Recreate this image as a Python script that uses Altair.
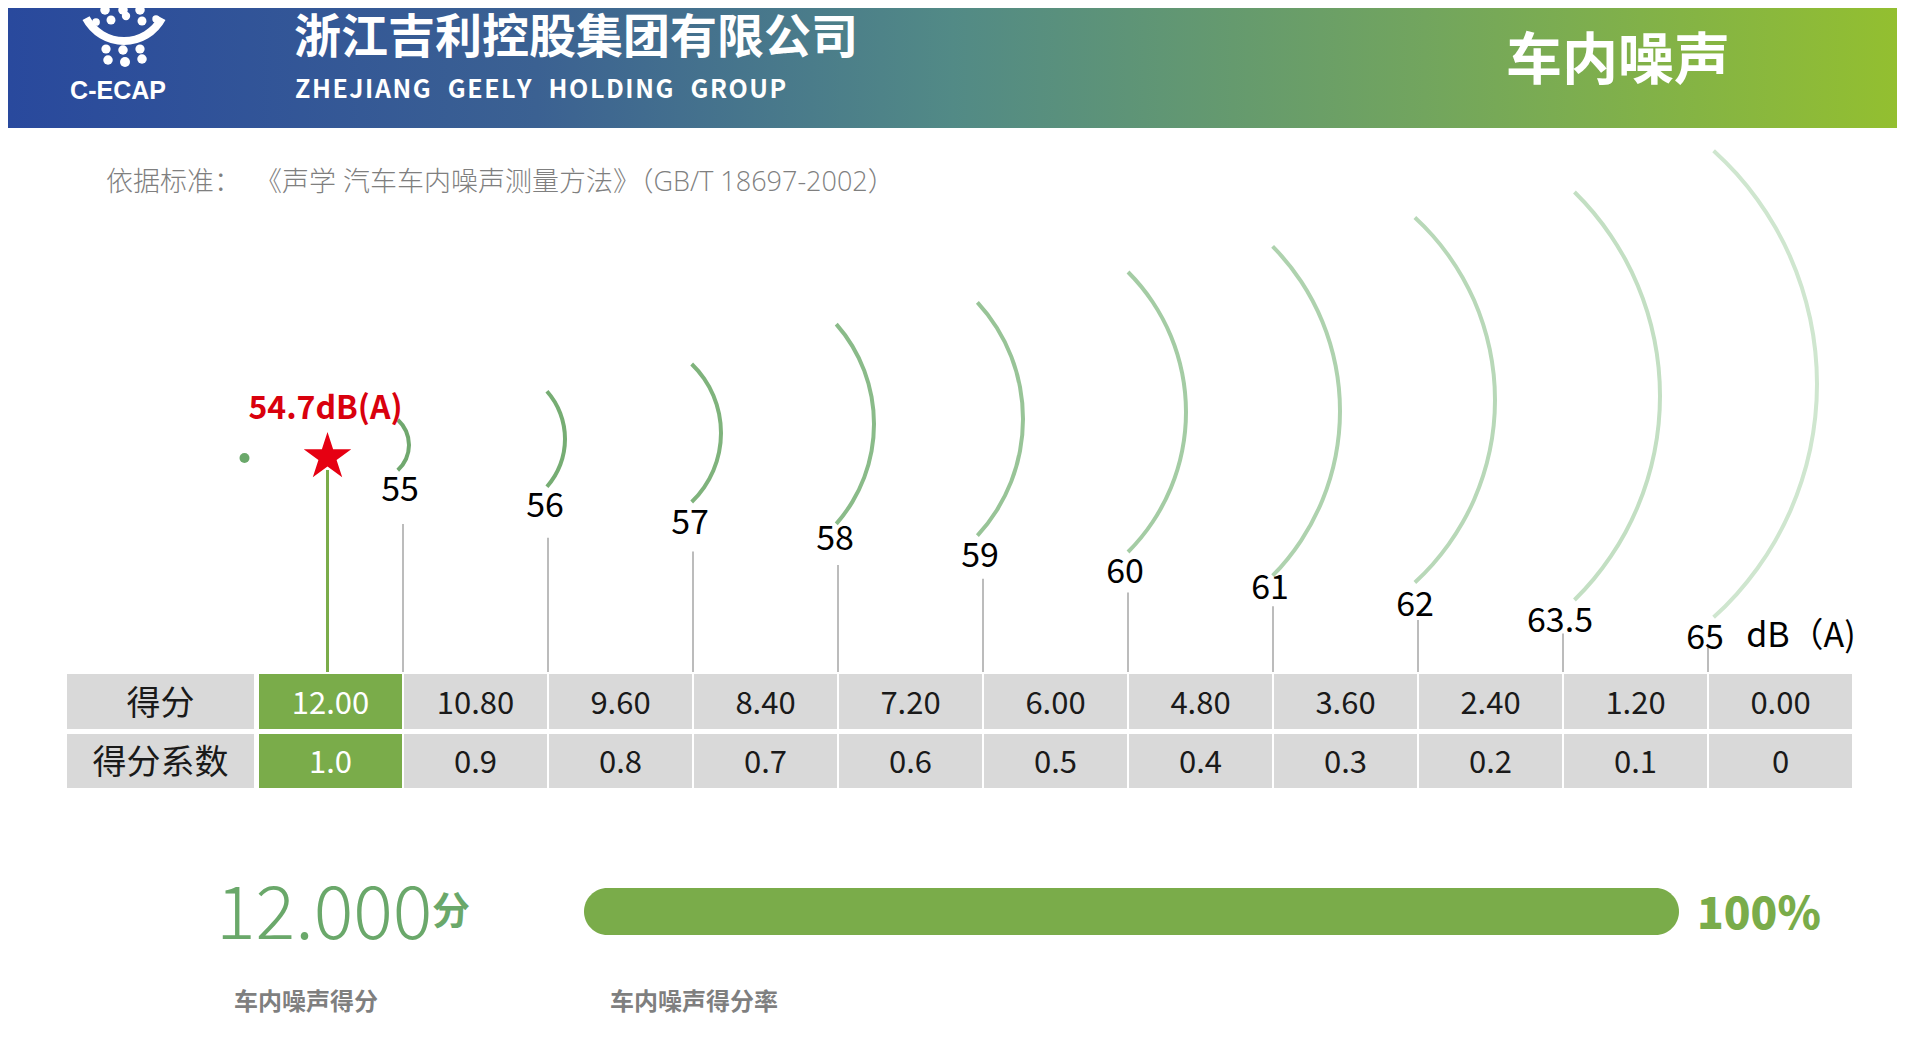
import math
import altair as alt
import pandas as pd

# ---------------- data ----------------
db_levels = [55, 56, 57, 58, 59, 60, 61, 62, 63.5, 65]
scores = [12.00, 10.80, 9.60, 8.40, 7.20, 6.00, 4.80, 3.60, 2.40, 1.20, 0.00]
coefficients = [1.0, 0.9, 0.8, 0.7, 0.6, 0.5, 0.4, 0.3, 0.2, 0.1, 0.0]
row_labels = ["得分", "得分系数"]
measured_db = 54.7
measured_score = 12.000
full_score = 12.0
unit_label = "dB（A)"
company_cn = "浙江吉利控股集团有限公司"
company_en = "ZHEJIANG GEELY HOLDING GROUP"
section_title = "车内噪声"
standard_note = "依据标准：\u00a0\u00a0《声学 汽车车内噪声测量方法》（GB/T 18697-2002）"
score_caption = "车内噪声得分"
rate_caption = "车内噪声得分率"
logo_text = "C-ECAP"

# ---------------- layout (page pixel frame) ----------------
W, H = 1889, 1015
X0, Y0 = 8, 8
XS = alt.Scale(domain=[X0, X0 + W], nice=False, zero=False)
YS = alt.Scale(domain=[Y0, Y0 + H], nice=False, zero=False, reverse=True)
CJK = "Noto Sans CJK SC"
GREEN = "#7aac4a"
GRAY_CELL = "#d9d9d9"

COL0, PITCH, CELL_W = 259, 145, 143
ROWS = [(674, 729), (734, 788)]
LABEL_X = (67, 254)
TICK_BOTTOM = 672
LABEL_Y0, LABEL_DY = 491, 16.4
TICK_TOP0, TICK_DY = 524, 13.7
# arc geometry per level: centre x, centre y, radius, half angle (deg)
ARC_GEOM = [(375, 445, 34, 48), (493, 439, 72, 41.5), (625, 433, 96, 46),
            (723, 424, 151, 41.4), (851, 419, 172, 42.7), (988, 412, 198, 45),
            (1105, 411, 235, 44.5), (1247, 400, 248, 47.4), (1374, 396, 286, 45.5),
            (1502, 384, 315, 47.8)]
ARC_COLORS = ["#70a86e", "#76ad73", "#7fb37c", "#8abb89", "#98c497", "#a4cca4",
              "#aed2ae", "#b8d8b8", "#c3dfc3", "#cfe6cf"]
BAR_X0, BAR_W, BAR_Y = 584, 1095, (888, 935)

STAR = ("M0,-1L0.2245,-0.309L0.9511,-0.309L0.3633,0.118L0.5878,0.809L0,0.382"
        "L-0.5878,0.809L-0.3633,0.118L-0.9511,-0.309L-0.2245,-0.309Z")


def X(f="x"):
    return alt.X(f"{f}:Q", scale=XS, axis=None)


def Y(f="y"):
    return alt.Y(f"{f}:Q", scale=YS, axis=None)


def txt(rows, **kw):
    return alt.Chart(pd.DataFrame(rows)).mark_text(**kw).encode(x=X(), y=Y(), text="t:N")


layers = []

# header band
grad = alt.LinearGradient(
    gradient="linear", x1=0, x2=1, y1=0, y2=0,
    stops=[alt.GradientStop(offset=0, color="#29499d"),
           alt.GradientStop(offset=0.28, color="#3b6192"),
           alt.GradientStop(offset=0.5, color="#528a86"),
           alt.GradientStop(offset=0.75, color="#72a55e"),
           alt.GradientStop(offset=1, color="#93bf30")])
layers.append(alt.Chart(pd.DataFrame([{"x": X0, "x2": X0 + W, "y": Y0, "y2": 128}]))
              .mark_rect(color=grad).encode(x=X(), x2="x2:Q", y=Y(), y2="y2:Q"))

# logo
logo_dots = pd.DataFrame({
    "x": [105, 123, 140, 96, 111, 126, 142, 156, 106, 123, 140, 108, 125, 142],
    "y": [10, 10, 10, 22, 20, 16, 21, 19, 49, 50, 49, 60, 62, 59],
    "s": [90, 90, 90, 60, 80, 70, 80, 55, 85, 90, 85, 90, 100, 90]})
layers.append(alt.Chart(logo_dots).mark_circle(color="white", opacity=1)
              .encode(x=X(), y=Y(), size=alt.Size("s:Q", scale=None)))
layers.append(alt.Chart(pd.DataFrame([{"x": 124, "y": -2, "r": 47, "r2": 39,
                                       "t": math.radians(118), "t2": math.radians(242)}]))
              .mark_arc(color="white")
              .encode(x=X(), y=Y(), radius=alt.Radius("r:Q", scale=None), radius2="r2:Q",
                      theta=alt.Theta("t:Q", scale=None, stack=None), theta2="t2:Q"))
layers.append(txt([{"x": 118, "y": 91, "t": logo_text}], font="Liberation Sans", fontSize=25,
                  fontWeight="bold", color="white", align="center", baseline="middle"))

# header texts
layers.append(txt([{"x": 294, "y": 39, "t": company_cn}], font=CJK, fontSize=47,
                  fontWeight="bold", color="white", align="left", baseline="middle"))
spaced_en = "\u00a0\u00a0\u00a0".join("\u200a".join(w) for w in company_en.split(" "))
layers.append(txt([{"x": 295, "y": 90, "t": spaced_en}], font=CJK, fontSize=25,
                  fontWeight="bold", color="white", align="left", baseline="middle"))
layers.append(txt([{"x": 1618, "y": 62, "t": section_title}], font=CJK, fontSize=56,
                  fontWeight="bold", color="white", align="center", baseline="middle"))

# standard note
layers.append(txt([{"x": 106, "y": 183, "t": standard_note}], font="Open Sans, " + CJK,
                  fontSize=27, fontWeight=300, color="#7f7f7f", align="left",
                  baseline="middle"))

# sound-wave arcs, one per dB level
arc_rows = []
for k, lv in enumerate(db_levels):
    cx, cy, r, a = ARC_GEOM[k]
    arc_rows.append({"x": cx, "y": cy, "r": r + 2, "r2": r - 2,
                     "t": math.radians(90 - a), "t2": math.radians(90 + a),
                     "c": ARC_COLORS[k]})
layers.append(alt.Chart(pd.DataFrame(arc_rows)).mark_arc()
              .encode(x=X(), y=Y(), radius=alt.Radius("r:Q", scale=None), radius2="r2:Q",
                      theta=alt.Theta("t:Q", scale=None, stack=None), theta2="t2:Q",
                      color=alt.Color("c:N", scale=None)))

# tick rules and dB labels
tick_rows, lab_rows = [], []
for k, lv in enumerate(db_levels):
    tx = COL0 + PITCH * (k + 1) - 1
    tick_rows.append({"x": tx, "y": TICK_TOP0 + TICK_DY * k, "y2": TICK_BOTTOM})
    lab_rows.append({"x": tx - 3, "y": LABEL_Y0 + LABEL_DY * k, "t": f"{lv:g}"})
layers.append(alt.Chart(pd.DataFrame(tick_rows)).mark_rule(color="#a6a6a6", strokeWidth=1.5)
              .encode(x=X(), y=Y(), y2="y2:Q"))
layers.append(txt(lab_rows, font=CJK, fontSize=34, color="black", align="center",
                  baseline="middle"))
last = lab_rows[-1]
layers.append(txt([{"x": last["x"] + 96, "y": last["y"] - 2, "t": unit_label}], font=CJK,
                  fontSize=34, color="black", align="center", baseline="middle"))

# measured marker
col = sum(measured_db >= lv for lv in db_levels)
mx = COL0 + PITCH * col + CELL_W / 2 - 3
layers.append(alt.Chart(pd.DataFrame([{"x": mx, "y": 470, "y2": TICK_BOTTOM}]))
              .mark_rule(color=GREEN, strokeWidth=3).encode(x=X(), y=Y(), y2="y2:Q"))
layers.append(alt.Chart(pd.DataFrame([{"x": mx - 83, "y": 458}]))
              .mark_circle(color="#6aa86a", size=100, opacity=1).encode(x=X(), y=Y()))
layers.append(alt.Chart(pd.DataFrame([{"x": mx, "y": 457}]))
              .mark_point(shape=STAR, filled=True, size=2500, color="#e60012", opacity=1,
                          strokeWidth=0).encode(x=X(), y=Y()))
layers.append(txt([{"x": mx - 2, "y": 409, "t": f"{measured_db}dB(A)"}], font=CJK,
                  fontSize=32, fontWeight="bold", color="#d9000d", align="center",
                  baseline="middle"))

# table
cells = []
for r, (y1, y2) in enumerate(ROWS):
    cells.append({"x": LABEL_X[0], "x2": LABEL_X[1], "y": y1, "y2": y2,
                  "t": row_labels[r], "hl": False, "lab": True})
    for i in range(len(scores)):
        t = f"{scores[i]:.2f}" if r == 0 else (f"{coefficients[i]:.1f}" if coefficients[i] else "0")
        cells.append({"x": COL0 + PITCH * i, "x2": COL0 + PITCH * i + CELL_W, "y": y1, "y2": y2,
                      "t": t, "hl": i == col, "lab": False})
cdf = pd.DataFrame(cells)
cdf["cx"] = (cdf["x"] + cdf["x2"]) / 2
cdf["cy"] = (cdf["y"] + cdf["y2"]) / 2 + 3
base = alt.Chart(cdf)
layers.append(base.mark_rect().encode(
    x=X(), x2="x2:Q", y=Y(), y2="y2:Q",
    color=alt.condition("datum.hl", alt.value(GREEN), alt.value(GRAY_CELL))))
layers.append(base.transform_filter("!datum.lab").mark_text(font=CJK, fontSize=31,
                                                            baseline="middle").encode(
    x=X("cx"), y=Y("cy"), text="t:N",
    color=alt.condition("datum.hl", alt.value("white"), alt.value("#1a1a1a"))))
layers.append(base.transform_filter("datum.lab").mark_text(font=CJK, fontSize=34,
                                                           baseline="middle", color="#1a1a1a")
              .encode(x=X("cx"), y=Y("cy"), text="t:N"))

# bottom summary
rate = measured_score / full_score
layers.append(txt([{"x": 216, "y": 939, "t": f"{measured_score:.3f}"}], font=CJK, fontSize=74,
                  fontWeight=300, color="#6aa86a", align="left", baseline="alphabetic"))
layers.append(txt([{"x": 432, "y": 913, "t": "分"}], font=CJK, fontSize=38,
                  fontWeight="bold", color="#6aa86a", align="left", baseline="middle"))
layers.append(alt.Chart(pd.DataFrame([{"x": BAR_X0, "x2": BAR_X0 + BAR_W * rate,
                                       "y": BAR_Y[0], "y2": BAR_Y[1]}]))
              .mark_rect(color=GREEN, cornerRadius=23.5)
              .encode(x=X(), x2="x2:Q", y=Y(), y2="y2:Q"))
layers.append(txt([{"x": 1697, "y": 929, "t": f"{rate:.0%}"}], font=CJK, fontSize=44,
                  fontWeight=900, color=GREEN, align="left", baseline="alphabetic"))
layers.append(txt([{"x": 234, "y": 1003, "t": score_caption},
                   {"x": 610, "y": 1003, "t": rate_caption}], font=CJK, fontSize=24,
                  fontWeight="bold", color="#7f7f7f", align="left", baseline="middle"))

chart = alt.layer(*layers).properties(
    width=W, height=H, padding=0,
    autosize=alt.AutoSizeParams(type="none"),
    background="white",
).configure_view(strokeWidth=0)

chart.save("out.html", embed_options={"renderer": "svg", "actions": False})
